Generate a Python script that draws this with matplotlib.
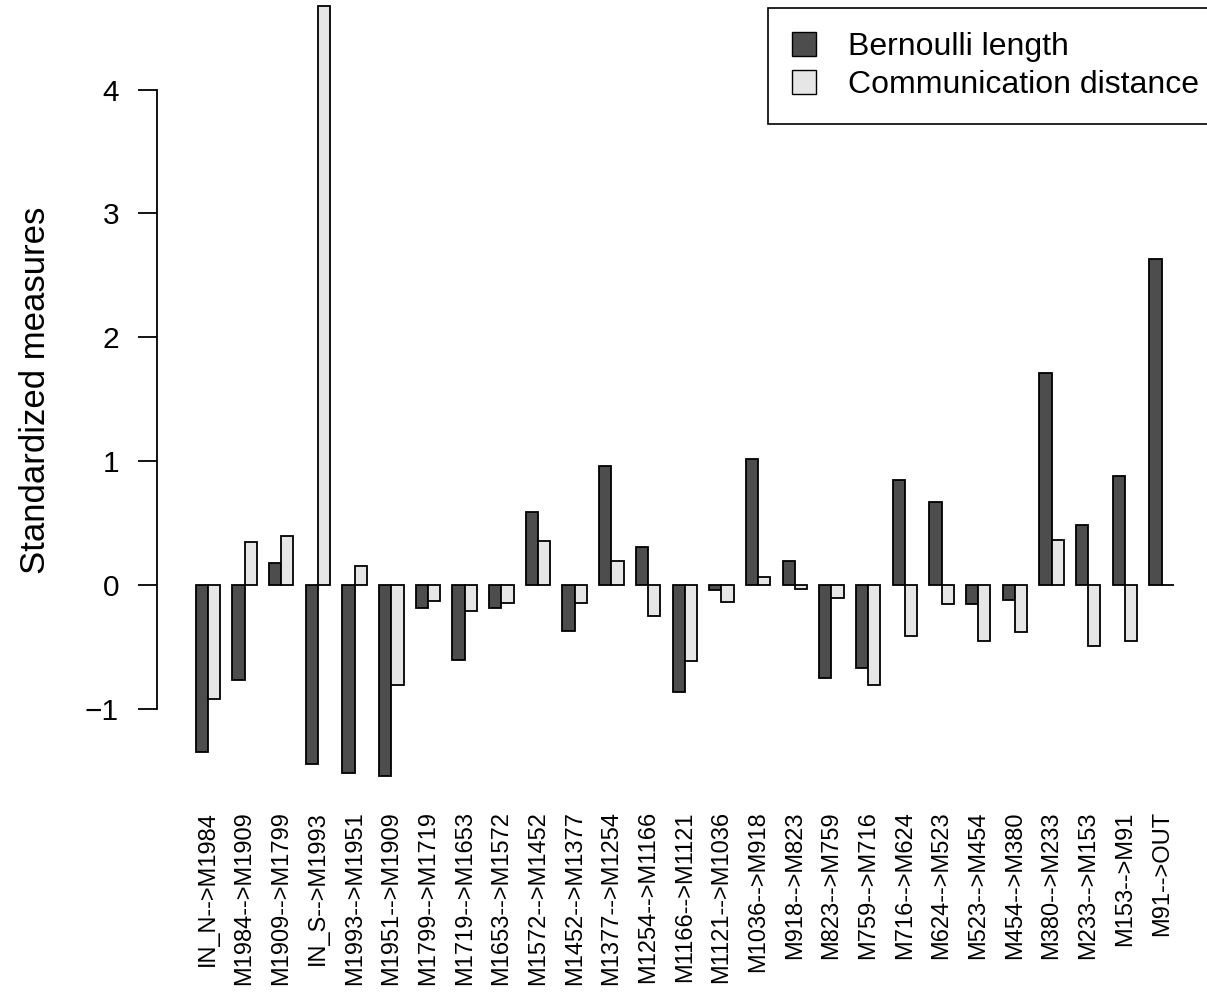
import matplotlib
matplotlib.use('Agg')
import matplotlib.pyplot as plt
from matplotlib.patches import Patch
import numpy as np

plt.rcParams['font.family'] = ['Liberation Sans', 'DejaVu Sans']

links = ['IN_N-->M1984', 'M1984-->M1909', 'M1909-->M1799', 'IN_S-->M1993',
         'M1993-->M1951', 'M1951-->M1909', 'M1799-->M1719', 'M1719-->M1653',
         'M1653-->M1572', 'M1572-->M1452', 'M1452-->M1377', 'M1377-->M1254',
         'M1254-->M1166', 'M1166-->M1121', 'M1121-->M1036', 'M1036-->M918',
         'M918-->M823', 'M823-->M759', 'M759-->M716', 'M716-->M624',
         'M624-->M523', 'M523-->M454', 'M454-->M380', 'M380-->M233',
         'M233-->M153', 'M153-->M91', 'M91-->OUT']
bernoulli = [-1.345, -0.76, 0.18, -1.44, -1.51, -1.54, -0.18, -0.60, -0.18,
             0.59, -0.37, 0.964, 0.31, -0.86, -0.04, 1.02, 0.20, -0.75,
             -0.67, 0.85, 0.675, -0.15, -0.115, 1.716, 0.485, 0.885, 2.635]
comm_dist = [-0.915, 0.35, 0.40, 4.67, 0.16, -0.80, -0.13, -0.21, -0.14,
             0.36, -0.14, 0.195, -0.25, -0.61, -0.135, 0.066, -0.03, -0.10,
             -0.80, -0.405, -0.147, -0.45, -0.38, 0.367, -0.49, -0.45, 0.0]

dark = '#4D4D4D'
light = '#E6E6E6'

fig = plt.figure(figsize=(12.07, 10.05), dpi=100)
ax = fig.add_axes([0.1297, 0.197, 0.8703, 0.803])

# barplot(beside=TRUE) layout: each group = 2 bars + 1 unit gap
centers = 2 + 3 * np.arange(len(links))
ax.bar(centers - 1, bernoulli, width=1, align='edge', color=dark,
       edgecolor='black', linewidth=1.3)
ax.bar(centers, comm_dist, width=1, align='edge', color=light,
       edgecolor='black', linewidth=1.3)

ax.set_xlim(-2.2, 83.71)
ax.set_ylim(-1.788, 4.722)

for s in ['top', 'right', 'bottom']:
    ax.spines[s].set_visible(False)
ax.spines['left'].set_bounds(-1, 4)
ax.spines['left'].set_linewidth(1.3)

ax.set_yticks([-1, 0, 1, 2, 3, 4])
ax.tick_params(axis='y', length=14, width=1.3, pad=13, labelsize=21.5)
ax.set_xticks(centers)
ax.set_xticklabels(links, rotation=90, fontsize=17, va='top')
ax.tick_params(axis='x', length=0, pad=3)

fig.text(0.029, 1 - 390 / 1005, 'Standardized measures', rotation=90,
         ha='center', va='center', fontsize=25)

handles = [Patch(facecolor=dark, edgecolor='black', linewidth=1),
           Patch(facecolor=light, edgecolor='black', linewidth=1)]
leg = fig.legend(handles, ['Bernoulli length', 'Communication distance'],
                 loc='upper left', bbox_to_anchor=(768 / 1207, 1 - 8 / 1005),
                 fontsize=23, handlelength=0.75, handleheight=0.75,
                 handletextpad=1.0, labelspacing=0.25, borderpad=0.75,
                 borderaxespad=0, fancybox=False, framealpha=1,
                 edgecolor='black')
leg.get_frame().set_linewidth(1.2)

fig.savefig('out.png', dpi=100)
